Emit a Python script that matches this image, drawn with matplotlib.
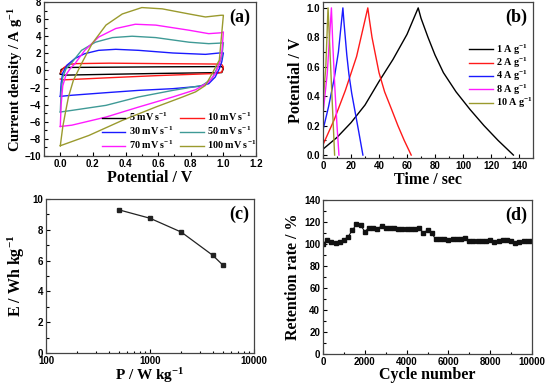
import matplotlib
matplotlib.use("Agg")
import matplotlib.pyplot as plt
from matplotlib.font_manager import FontProperties
from matplotlib.ticker import MultipleLocator, FixedLocator, FixedFormatter, LogLocator, NullFormatter

plt.rcParams['mathtext.fontset'] = 'custom'
plt.rcParams['mathtext.rm'] = 'Liberation Serif:bold'
plt.rcParams['mathtext.it'] = 'Liberation Serif:bold'
plt.rcParams['mathtext.bf'] = 'Liberation Serif:bold'

# ---------------- (a) CV data ----------------
cv_labels = ['5 mV s$^{-1}$', '10 mV s$^{-1}$', '30 mV s$^{-1}$',
             '50 mV s$^{-1}$', '70 mV s$^{-1}$', '100 mV s$^{-1}$']
cv_colors = ['#000000', '#ff1a1a', '#1a1aff', '#3f9a96', '#ff1aff', '#9a9a2e']

cv5_v = [0.0, 0.005, 0.03, 0.3, 0.6, 0.99, 1.0, 0.99, 0.6, 0.3, 0.02, 0.0]
cv5_i = [-0.4, 0.1, 0.35, 0.38, 0.42, 0.45, 0.2, -0.25, -0.35, -0.45, -0.55, -0.4]

cv10_v = [0.0, 0.02, 0.05, 0.1, 0.3, 0.6, 0.95, 0.99, 1.0, 0.99, 0.96, 0.6, 0.3, 0.02, 0.0]
cv10_i = [-0.3, 0.3, 0.7, 0.8, 0.85, 0.8, 0.75, 0.7, 0.4, -0.2, -0.35, -0.6, -0.85, -1.1, -1.0]

cv30_v = [0.0, 0.005, 0.015, 0.04, 0.09, 0.15, 0.235, 0.34, 0.48, 0.69, 0.89, 0.975, 1.0,
          0.99, 0.975, 0.95, 0.91, 0.85, 0.69, 0.48, 0.28, 0.07, 0.0]
cv30_i = [-3.03, -1.5, -0.3, 0.6, 1.4, 1.96, 2.35, 2.47, 2.35, 2.04, 1.88, 2.04, 2.05,
          1.0, 0.2, -0.77, -1.55, -1.86, -2.13, -2.33, -2.6, -2.9, -3.03]

cv50_v = [0.0, 0.005, 0.015, 0.035, 0.07, 0.13, 0.215, 0.32, 0.44, 0.585, 0.79, 0.91, 0.985, 1.0,
          0.99, 0.96, 0.93, 0.87, 0.69, 0.48, 0.28, 0.07, 0.0]
cv50_i = [-4.86, -2.5, -0.8, 0.2, 0.9, 2.35, 3.3, 3.84, 4.0, 3.84, 3.3, 3.13, 3.2, 3.25,
          1.5, 0.2, -0.96, -1.75, -2.33, -3.1, -4.08, -4.67, -4.86]

cv70_v = [0.0, 0.005, 0.015, 0.035, 0.06, 0.09, 0.15, 0.235, 0.34, 0.46, 0.585, 0.79, 0.91, 0.985, 1.0,
          0.99, 0.975, 0.95, 0.91, 0.83, 0.69, 0.48, 0.28, 0.07, 0.0]
cv70_i = [-6.55, -4.0, -1.8, -0.5, 0.2, 0.8, 2.35, 3.9, 4.9, 5.4, 5.3, 4.7, 4.3, 4.4, 4.5,
          2.0, 0.8, -0.4, -1.35, -2.25, -3.1, -4.28, -5.45, -6.4, -6.55]

cv100_v = [0.0, 0.015, 0.03, 0.05, 0.08, 0.13, 0.195, 0.28, 0.38, 0.50, 0.625, 0.79, 0.89, 0.985, 1.0,
           0.975, 0.93, 0.89, 0.83, 0.75, 0.585, 0.38, 0.175, 0.0]
cv100_i = [-8.8, -6.6, -5.05, -3.1, -1.16, 0.8, 3.13, 5.3, 6.6, 7.35, 7.2, 6.6, 6.25, 6.45, 6.45,
           1.2, -0.4, -1.75, -2.5, -3.1, -4.28, -5.84, -7.6, -8.8]

cv_v = [cv5_v, cv10_v, cv30_v, cv50_v, cv70_v, cv100_v]
cv_i = [cv5_i, cv10_i, cv30_i, cv50_i, cv70_i, cv100_i]

# ---------------- (b) GCD data ----------------
gcd_labels = ['1 A g$^{-1}$', '2 A g$^{-1}$', '4 A g$^{-1}$', '8 A g$^{-1}$', '10 A g$^{-1}$']
gcd_colors = ['#000000', '#ff1a1a', '#1a1aff', '#ff1aff', '#9a9a2e']

g1_t = [0, 10, 20, 30, 40, 50, 60, 68, 70, 75, 80, 86, 95, 105, 115, 125, 136]
g1_v = [0.04, 0.12, 0.22, 0.34, 0.5, 0.65, 0.82, 1.0, 0.93, 0.80, 0.68, 0.56, 0.43, 0.31, 0.2, 0.1, 0.0]
g2_t = [0, 8, 16, 24, 32, 33, 35, 37.5, 40, 44, 49, 53.5, 58, 63]
g2_v = [0.07, 0.24, 0.44, 0.67, 1.0, 0.93, 0.8, 0.68, 0.56, 0.43, 0.31, 0.2, 0.1, 0.0]
g4_t = [0, 4, 8, 11, 14.2, 15, 17, 18.5, 20.5, 23, 25.5, 28.5]
g4_v = [0.17, 0.33, 0.52, 0.7, 1.0, 0.9, 0.68, 0.55, 0.42, 0.29, 0.16, 0.0]
g8_t = [0, 3, 6, 7, 8.5, 10, 11.4]
g8_v = [0.28, 0.55, 1.0, 0.75, 0.45, 0.2, 0.0]
g10_t = [0, 2, 3.6, 5, 6.5, 8.3]
g10_v = [0.35, 0.6, 1.0, 0.7, 0.38, 0.0]

gcd_t = [g1_t, g2_t, g4_t, g8_t, g10_t]
gcd_v = [g1_v, g2_v, g4_v, g8_v, g10_v]

# ---------------- (c) Ragone data ----------------
power = [500, 1000, 2000, 4000, 5000]
energy = [9.3, 8.75, 7.85, 6.35, 5.72]

# ---------------- (d) cycling data ----------------
cycles = list(range(0, 10001, 200))
retention = [100, 103.6, 102, 100.5, 102, 104, 106.5, 112.5, 117.8, 117.2,
             111.2, 115, 114.2, 113.6, 116.5, 114.5, 114.2, 115, 113.6, 113.6,
             113.5, 113.5, 113.3, 114.2, 110.3, 112.5, 109.7, 104.2, 104.5, 105,
             103.6, 105, 105, 105, 105.5, 103, 103, 102.7, 102.7, 102.7,
             103.4, 101.5, 102.7, 103.4, 103.4, 102.7, 100.6, 102, 103, 103, 103]

W, H = 555, 384
fig = plt.figure(figsize=(W / 100, H / 100), dpi=100)


def box(l, t, r, b):
    return [l / W, 1 - b / H, (r - l) / W, (b - t) / H]


tickfont = dict(family='Liberation Sans', weight='bold', size=7)
labfont = dict(family='Liberation Serif', weight='bold', size=11.5)
panfont = dict(family='Liberation Serif', weight='bold', size=13)
legfont = dict(family='Liberation Serif', weight='bold', size=7.3)


def style(ax):
    for s in ax.spines.values():
        s.set_linewidth(0.9)
        s.set_color('#444444')
    ax.tick_params(which='both', direction='in', top=False, right=False, width=0.8,
                   labelsize=7, pad=2)
    ax.tick_params(which='major', length=3)
    ax.tick_params(which='minor', length=1.8)
    for lab in ax.get_xticklabels() + ax.get_yticklabels():
        lab.set_fontproperties(FontProperties(**tickfont))


# (a)
axa = fig.add_axes(box(44, 2, 256, 156))
lines = []
for v, i, c, lab in zip(cv_v, cv_i, cv_colors, cv_labels):
    ln, = axa.plot(v, i, color=c, lw=1.0, label=lab)
    lines.append(ln)
axa.set_xlim(-0.1, 1.2)
axa.set_ylim(-10, 8)
axa.xaxis.set_major_locator(MultipleLocator(0.2))
axa.xaxis.set_minor_locator(MultipleLocator(0.1))
axa.yaxis.set_major_locator(MultipleLocator(2))
axa.yaxis.set_minor_locator(MultipleLocator(1))
axa.set_xticks([0.0, 0.2, 0.4, 0.6, 0.8, 1.0, 1.2])
axa.set_xticklabels(['0.0', '0.2', '0.4', '0.6', '0.8', '1.0', '1.2'])
style(axa)
axa.set_xlabel('Potential / V', labelpad=1, **labfont)
axa.set_ylabel('Current density / A g$^{-1}$', labelpad=0,
               family='Liberation Serif', weight='bold', size=10.5)
axa.text(0.975, 0.955, '(a)', transform=axa.transAxes, ha='right', va='top', **panfont)
order = [0, 2, 4, 1, 3, 5]
axa.legend([lines[k] for k in order], [cv_labels[k] for k in order], ncol=2,
           loc='lower right', bbox_to_anchor=(1.035, -0.015), frameon=False,
           prop=FontProperties(**legfont),
           handlelength=2.3, columnspacing=0.7, labelspacing=0.15, handletextpad=0.35,
           borderaxespad=0.3)

# (b)
axb = fig.add_axes(box(323, 2, 533, 158))
for t, v, c, lab in zip(gcd_t, gcd_v, gcd_colors, gcd_labels):
    axb.plot(t, v, color=c, lw=1.0, label=lab)
axb.set_xlim(0, 150)
axb.set_ylim(-0.02, 1.04)
axb.xaxis.set_major_locator(MultipleLocator(20))
axb.xaxis.set_minor_locator(MultipleLocator(10))
axb.yaxis.set_major_locator(MultipleLocator(0.2))
axb.yaxis.set_minor_locator(MultipleLocator(0.1))
axb.set_yticks([0.0, 0.2, 0.4, 0.6, 0.8, 1.0])
axb.set_yticklabels(['0.0', '0.2', '0.4', '0.6', '0.8', '1.0'])
style(axb)
axb.set_xlabel('Time / sec', labelpad=1, **labfont)
axb.set_ylabel('Potential / V', labelpad=2, **labfont)
axb.text(0.975, 0.955, '(b)', transform=axb.transAxes, ha='right', va='top', **panfont)
axb.legend(loc='upper right', bbox_to_anchor=(1.045, 0.80), frameon=False,
           prop=FontProperties(**legfont),
           handlelength=2.4, labelspacing=-0.1, handletextpad=0.3)

# (c)
axc = fig.add_axes(box(46, 199, 254, 353))
axc.plot(power, energy, color='#222222', lw=0.9, marker='s', ms=3.2)
axc.set_xscale('log')
axc.set_xlim(100, 10000)
axc.set_ylim(0, 10)
axc.xaxis.set_major_locator(FixedLocator([100, 1000, 10000]))
axc.xaxis.set_major_formatter(FixedFormatter(['100', '1000', '10000']))
axc.xaxis.set_minor_locator(LogLocator(base=10, subs=[2, 3, 4, 5, 6, 7, 8, 9]))
axc.xaxis.set_minor_formatter(NullFormatter())
axc.yaxis.set_major_locator(MultipleLocator(2))
axc.yaxis.set_minor_locator(MultipleLocator(1))
style(axc)
axc.set_xlabel('P / W kg$^{-1}$', labelpad=0.2,
               family='Liberation Serif', weight='bold', size=11)
axc.set_ylabel('E / Wh kg$^{-1}$', labelpad=4, **labfont)
axc.text(0.975, 0.955, '(c)', transform=axc.transAxes, ha='right', va='top', **panfont)

# (d)
axd = fig.add_axes(box(323, 200, 532, 354))
axd.plot(cycles, retention, color='#111111', lw=0.8, marker='s', ms=2.6)
axd.set_xlim(0, 10000)
axd.set_ylim(0, 140)
axd.xaxis.set_major_locator(MultipleLocator(2000))
axd.xaxis.set_minor_locator(MultipleLocator(1000))
axd.yaxis.set_major_locator(MultipleLocator(20))
axd.yaxis.set_minor_locator(MultipleLocator(10))
style(axd)
axd.set_xlabel('Cycle number', labelpad=0, **labfont)
axd.set_ylabel('Retention rate / %', labelpad=2, **labfont)
axd.text(0.975, 0.955, '(d)', transform=axd.transAxes, ha='right', va='top', **panfont)

fig.savefig('out.png', dpi=100)
